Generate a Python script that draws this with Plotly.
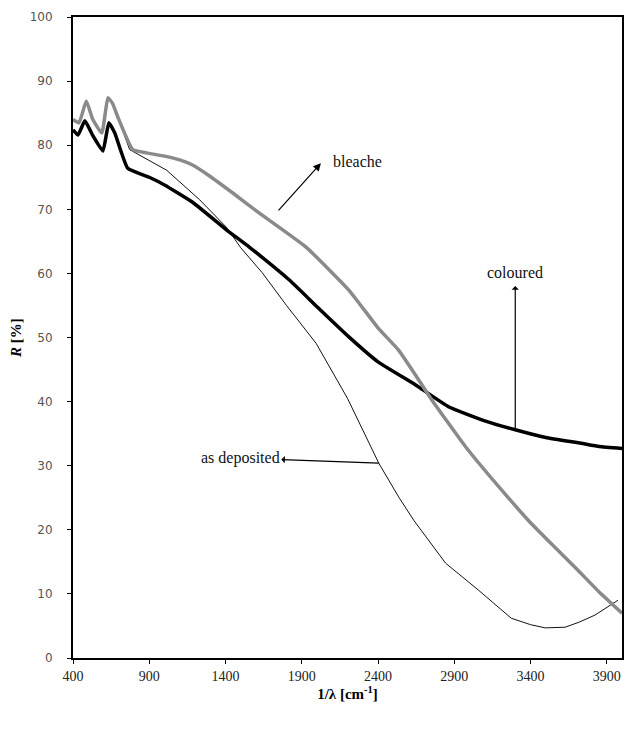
import plotly.graph_objects as go

# wavenumber [cm^-1] and reflectance R [%]
coloured_x = [400, 433, 478, 530, 596, 635, 674, 759, 900, 1000, 1184, 1406, 1556, 1817, 2000,
              2209, 2400, 2647, 2862, 3100, 3300, 3500, 3731, 3850, 4000]
coloured_y = [82.4, 81.6, 83.8, 81.5, 79.1, 83.5, 81.9, 76.4, 75.0, 73.8, 71.1, 66.8, 64.1, 59.0, 54.8,
              50.1, 46.2, 42.6, 39.2, 37.0, 35.6, 34.4, 33.5, 33.0, 32.7]

bleached_x = [400, 440, 487, 530, 589, 629, 660, 694, 792, 883, 1000, 1100, 1184, 1295, 1450, 1622, 1928,
              2209, 2400, 2536, 2650, 2752, 2973, 3200, 3385, 3550, 3711, 3850, 4000]
bleached_y = [84.0, 83.5, 86.9, 84.0, 81.9, 87.4, 86.5, 84.4, 79.3, 78.8, 78.3, 77.7, 76.9, 75.2, 72.5, 69.4, 64.1,
              57.4, 51.5, 48.0, 44.0, 40.3, 33.0, 26.5, 21.5, 17.5, 13.7, 10.3, 7.0]

deposited_x = [400, 440, 487, 530, 589, 629, 660, 694, 772, 1014, 1230, 1406, 1500, 1641, 1800, 1994,
               2200, 2405, 2536, 2634, 2843, 3058, 3274, 3400, 3496, 3627, 3720, 3823, 3973]
deposited_y = [84.0, 83.5, 86.9, 84.0, 81.9, 87.4, 86.5, 84.4, 79.3, 76.1, 71.5, 67.2, 64.0, 60.1, 55.0, 49.1,
               40.5, 30.4, 25.1, 21.5, 14.8, 10.6, 6.2, 5.2, 4.7, 4.8, 5.6, 6.7, 9.0]

x_ticks = [400, 900, 1400, 1900, 2400, 2900, 3400, 3900]
y_ticks = [0, 10, 20, 30, 40, 50, 60, 70, 80, 90, 100]

fig = go.Figure()
fig.add_trace(go.Scatter(x=deposited_x, y=deposited_y, mode="lines", name="as deposited",
                         line=dict(color="#111111", width=1)))
fig.add_trace(go.Scatter(x=coloured_x, y=coloured_y, mode="lines", name="coloured",
                         line=dict(color="#000000", width=3.5, shape="spline", smoothing=0.4)))
fig.add_trace(go.Scatter(x=bleached_x, y=bleached_y, mode="lines", name="bleached",
                         line=dict(color="#8a8a8a", width=3.5, shape="spline", smoothing=0.4)))

serif = "Liberation Serif, Times New Roman, serif"
label_font = dict(family=serif, size=16, color="#111")

annotations = [
    # bleached: arrow from curve up toward the label
    dict(x=2026, y=77.2, ax=1739, ay=69.6, xref="x", yref="y", axref="x", ayref="y",
         text="", showarrow=True, arrowhead=2, arrowsize=1.3, arrowwidth=1.2, arrowcolor="#000"),
    dict(x=2090, y=77.5, xref="x", yref="y", text="bleache", showarrow=False,
         xanchor="left", font=label_font),
    # coloured: label with arrow head at the label, tail on the curve
    dict(x=3300, y=35.6, ax=3300, ay=60.2, xref="x", yref="y", axref="x", ayref="y",
         text="coloured", showarrow=True, arrowside="start", arrowhead=2, arrowsize=1.3,
         arrowwidth=1.2, arrowcolor="#000", standoff=0, startstandoff=4, font=label_font),
    # as deposited: label with arrow head at the label end, tail on the curve
    dict(x=2405, y=30.4, ax=1497, ay=31.2, xref="x", yref="y", axref="x", ayref="y",
         text="as deposited", showarrow=True, arrowside="start", arrowhead=2, arrowsize=1.3,
         arrowwidth=1.2, arrowcolor="#000", standoff=0, startstandoff=0, font=label_font),
]

fig.update_layout(
    width=630, height=731,
    margin=dict(l=73, r=6, t=17, b=73),
    paper_bgcolor="white", plot_bgcolor="white",
    showlegend=False,
    annotations=annotations,
    xaxis=dict(range=[400, 4000], tickvals=x_ticks, ticktext=[str(v) for v in x_ticks],
               showgrid=False, zeroline=False, showline=True, mirror=True,
               linecolor="#000", linewidth=2, ticks="outside", ticklen=4, tickcolor="#000",
               tickfont=dict(family=serif, size=14, color="#222"),
               title=dict(text="<b>1/λ [cm<sup>-1</sup>]</b>", font=dict(family=serif, size=15, color="#000"),
                          standoff=2)),
    yaxis=dict(range=[0, 100], tickvals=y_ticks,
               showgrid=False, zeroline=False, showline=True, mirror=True,
               linecolor="#000", linewidth=2, ticks="outside", ticklen=4, tickcolor="#000",
               tickfont=dict(family="DejaVu Sans, Verdana, sans-serif", size=12, color="#555"),
               ticklabelstandoff=12,
               title=dict(text="<b><i>R</i> [%]</b>", font=dict(family=serif, size=15, color="#000"),
                          standoff=4)),
)

fig.write_html("out.html", config={"displayModeBar": False},
               post_script="document.body.style.margin='0';document.body.style.overflow='hidden';")
